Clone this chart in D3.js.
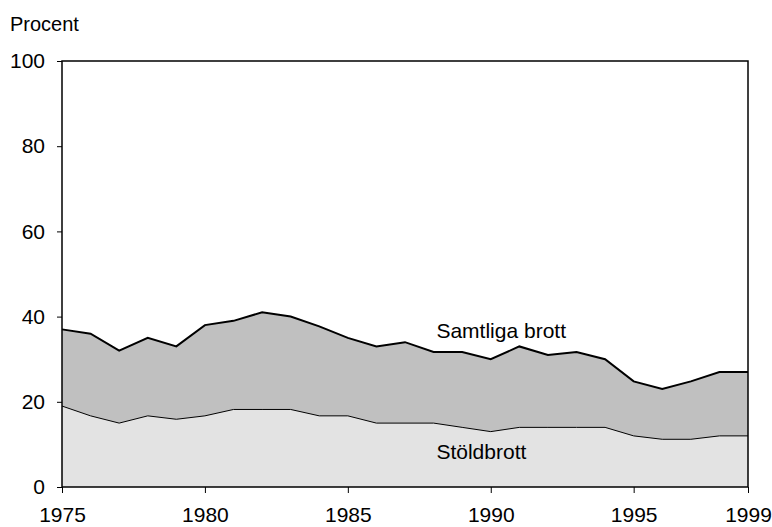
<!DOCTYPE html>
<html>
<head>
<meta charset="utf-8">
<script src="https://cdn.jsdelivr.net/npm/d3@7"></script>
<style>
  body { margin: 0; background: #fff; }
  svg text { font-family: "Liberation Sans", Arial, sans-serif; fill: #000; }
</style>
</head>
<body>
<svg id="chart" width="772" height="527"></svg>
<script>
// Data
const years = d3.range(1975, 2000);
const samtliga = [37, 36, 32, 35, 33, 38, 39, 41, 40, 37.7, 35, 33, 34, 31.7, 31.7, 30, 33, 31, 31.7, 30, 24.8, 23, 24.8, 27, 27];
const stold = [19, 16.7, 15, 16.7, 15.9, 16.7, 18.2, 18.2, 18.2, 16.7, 16.7, 15, 15, 15, 14, 13, 14, 14, 14, 14, 12, 11.2, 11.2, 12, 12];
const yTicks = [0, 20, 40, 60, 80, 100];
const xTicks = [1975, 1980, 1985, 1990, 1995, 1999];

const svg = d3.select("#chart");
const margin = { top: 61, right: 24, bottom: 40, left: 62 };
const width = 772, height = 527;

const x = d3.scaleLinear().domain([1975, 1999]).range([margin.left, width - margin.right]);
const y = d3.scaleLinear().domain([0, 100]).range([height - margin.bottom, margin.top]);

const rows = years.map((yr, i) => ({ year: yr, all: samtliga[i], theft: stold[i] }));

// Areas
const areaAll = d3.area().x(d => x(d.year)).y0(y(0)).y1(d => y(d.all));
const areaTheft = d3.area().x(d => x(d.year)).y0(y(0)).y1(d => y(d.theft));

svg.append("path").datum(rows).attr("d", areaAll).attr("fill", "#c0c0c0");
svg.append("path").datum(rows).attr("d", areaTheft).attr("fill", "#e3e3e3");

svg.append("path").datum(rows)
  .attr("d", d3.line().x(d => x(d.year)).y(d => y(d.theft)))
  .attr("fill", "none").attr("stroke", "#000").attr("stroke-width", 1);

svg.append("path").datum(rows)
  .attr("d", d3.line().x(d => x(d.year)).y(d => y(d.all)))
  .attr("fill", "none").attr("stroke", "#000").attr("stroke-width", 2);

// Frame
svg.append("rect")
  .attr("x", x(1975)).attr("y", y(100))
  .attr("width", x(1999) - x(1975)).attr("height", y(0) - y(100))
  .attr("fill", "none").attr("stroke", "#000").attr("stroke-width", 1.5);

// Axes
const yAxis = svg.append("g")
  .attr("transform", `translate(${x(1975)},0)`)
  .call(d3.axisLeft(y).tickValues(yTicks).tickSize(5).tickPadding(12));
const xAxis = svg.append("g")
  .attr("transform", `translate(0,${y(0)})`)
  .call(d3.axisBottom(x).tickValues(xTicks).tickFormat(d3.format("d")).tickSize(6).tickPadding(14));

[xAxis, yAxis].forEach(g => {
  g.select(".domain").remove();
  g.selectAll("line").attr("stroke", "#000").attr("stroke-width", 1);
  g.selectAll("text").attr("font-size", 21).attr("font-family", "Liberation Sans, Arial, sans-serif");
});

// Labels
svg.append("text").attr("x", 10).attr("y", 31).attr("font-size", 20).text("Procent");
svg.append("text").attr("x", x(1988.1)).attr("y", 338).attr("font-size", 21).text("Samtliga brott");
svg.append("text").attr("x", x(1988.1)).attr("y", 459).attr("font-size", 21).text("Stöldbrott");
</script>
</body>
</html>
